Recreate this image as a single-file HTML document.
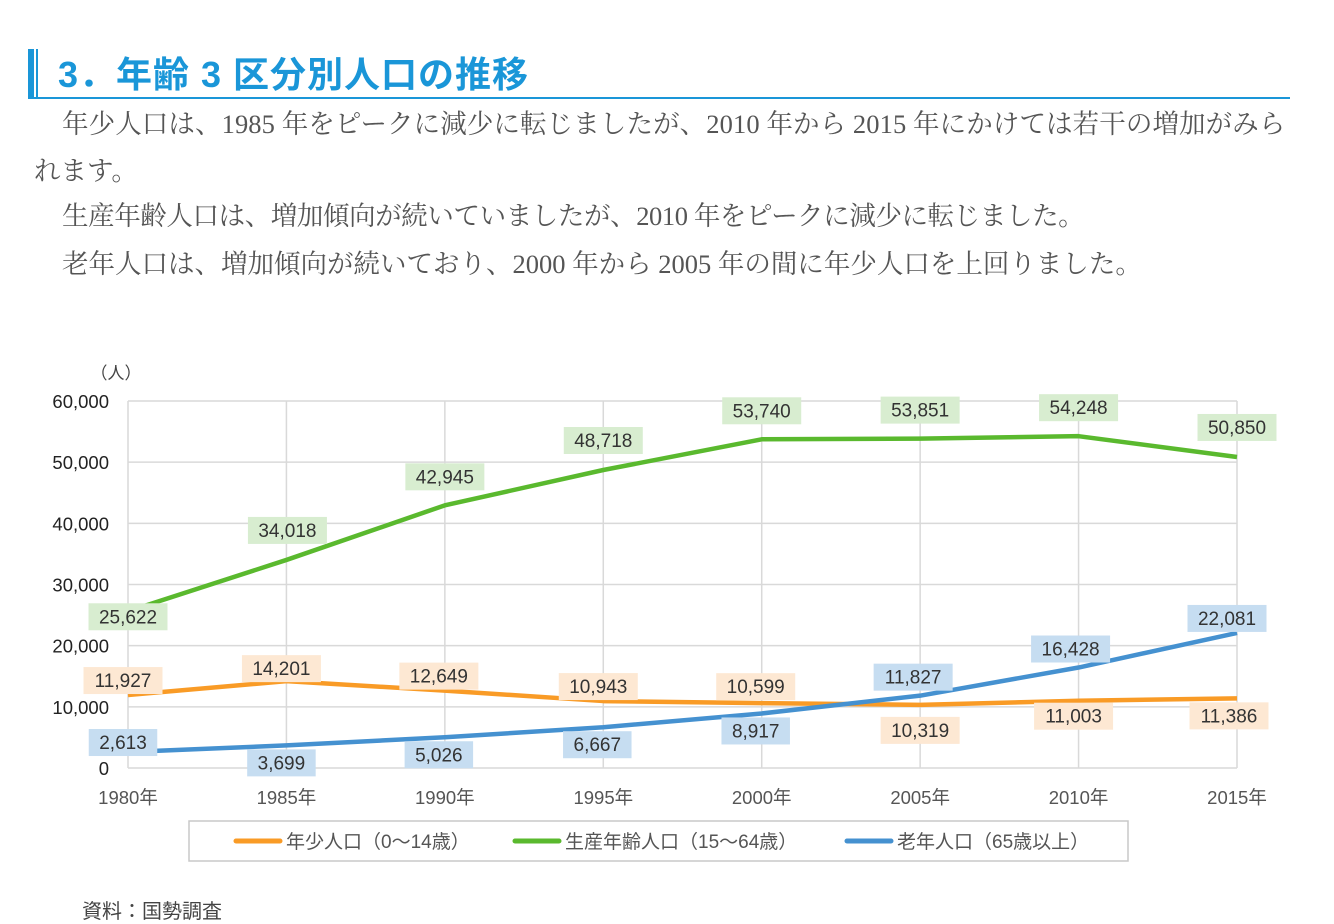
<!DOCTYPE html>
<html><head><meta charset="utf-8"><style>
body{margin:0;width:1334px;height:906px;background:#fff;overflow:hidden;position:relative;font-family:"Liberation Sans","Noto Sans CJK JP",sans-serif}
.p{position:absolute;white-space:nowrap;font-family:"Liberation Serif","Noto Serif CJK SC",serif;font-size:26.5px;color:#555;line-height:30px}
</style></head><body>
<div style="position:absolute;left:28px;top:49px;width:6px;height:50px;background:#1a96d8"></div>
<div style="position:absolute;left:36px;top:49px;width:2px;height:50px;background:#1a96d8"></div>
<div style="position:absolute;left:28px;top:97px;width:1262px;height:2px;background:#1a96d8"></div>
<div style="position:absolute;left:58px;top:46px;font-size:36px;font-weight:bold;color:#1a96d8;white-space:nowrap;font-family:'Liberation Sans','Noto Sans CJK JP',sans-serif;letter-spacing:1px">3．年齢 3 区分別人口の推移</div>
<div class="p" style="left:62px;top:109px;letter-spacing:0.1px">年少人口は、1985 年をピークに減少に転じましたが、2010 年から 2015 年にかけては若干の増加がみら</div>
<div class="p" style="left:34px;top:156px">れます。</div>
<div class="p" style="left:62px;top:201px;letter-spacing:-0.4px">生産年齢人口は、増加傾向が続いていましたが、2010 年をピークに減少に転じました。</div>
<div class="p" style="left:62px;top:249px;letter-spacing:0px">老年人口は、増加傾向が続いており、2000 年から 2005 年の間に年少人口を上回りました。</div>
<svg id="chart" width="1334" height="906" style="position:absolute;left:0;top:0" xmlns="http://www.w3.org/2000/svg"></svg>
<div style="position:absolute;left:82px;top:895px;font-size:20px;color:#444;white-space:nowrap">資料：国勢調査</div>
<script>
const years=["1980年","1985年","1990年","1995年","2000年","2005年","2010年","2015年"];
const youth=[11927,14201,12649,10943,10599,10319,11003,11386];
const working=[25622,34018,42945,48718,53740,53851,54248,50850];
const elderly=[2613,3699,5026,6667,8917,11827,16428,22081];
const yTicks=[0,10000,20000,30000,40000,50000,60000];
const youthLabelDy=[-15,-13,-15,-15,-17,25,15,17];
const youthLabelDx=[-5,-5,-6,-5,-6,0,-5,-8];
const workingLabelDy=[5,-30,-29,-30,-29,-29,-29,-30];
const workingLabelDx=[0,1,0,0,0,0,0,0];
const elderlyLabelDy=[-10,17,17,17,17,-19,-19,-15];
const elderlyLabelDx=[-5,-5,-6,-6,-6,-7,-8,-10];
const svg=document.getElementById('chart');
const NS="http://www.w3.org/2000/svg";
const x0=128,x1=1237,yb=768,yt=401,ymax=60000;
const X=i=>x0+(x1-x0)*i/(years.length-1);
const Y=v=>yb-(yb-yt)*v/ymax;
function mk(tag,attrs){const e=document.createElementNS(NS,tag);for(const k in attrs)e.setAttribute(k,attrs[k]);svg.appendChild(e);return e;}
yTicks.forEach(t=>{
  const g=mk('line',{x1:x0,x2:x1,y1:Y(t),y2:Y(t),stroke:'#d9d9d9','stroke-width':1.5});
  
  
  const tx=mk('text',{x:109,y:Y(t)+7,'text-anchor':'end','font-size':18.5,fill:'#222'});
  tx.textContent=t.toLocaleString('en-US');
  
  
});
years.forEach((yr,i)=>{
  const g=mk('line',{x1:X(i),x2:X(i),y1:yt,y2:yb,stroke:'#d9d9d9','stroke-width':1.5});
  
  
  const tx=mk('text',{x:X(i),y:804,'text-anchor':'middle','font-size':18.5,fill:'#555'});
  tx.textContent=yr;
  
  
});
const unit=mk('text',{x:116,y:379,'text-anchor':'middle','font-size':17,fill:'#444'});
unit.textContent='（人）';


const series=[
 {name:'youth',vals:youth,color:'#f99b26',bg:'#fde8d3',dy:youthLabelDy,dx:youthLabelDx},
 {name:'working',vals:working,color:'#5ab92e',bg:'#d8edd0',dy:workingLabelDy,dx:workingLabelDx},
 {name:'elderly',vals:elderly,color:'#4591d0',bg:'#c6ddf1',dy:elderlyLabelDy,dx:elderlyLabelDx}];
series.forEach(s=>{
  const pts=s.vals.map((v,i)=>X(i)+','+Y(v)).join(' ');
  const l=mk('polyline',{points:pts,fill:'none',stroke:s.color,'stroke-width':4.5,'stroke-linejoin':'round'});
  
  
});
series.forEach(s=>{
  s.vals.forEach((v,i)=>{
    const txt=v.toLocaleString('en-US');
    const cx=X(i)+s.dx[i],cy=Y(v)+s.dy[i];
    const w=txt.length*10.5+16;
    const r=mk('rect',{x:cx-w/2,y:cy-13,width:w,height:27,fill:s.bg});
    
    
    const t=mk('text',{x:cx,y:cy+7,'text-anchor':'middle','font-size':19,fill:'#333'});
    t.textContent=txt;
    
    
  });
});
const lg=mk('rect',{x:189,y:821,width:939,height:40,fill:'#fff',stroke:'#c8c8c8','stroke-width':1.5});


const legendItems=[['年少人口（0～14歳）',236,'#f99b26'],['生産年齢人口（15～64歳）',515,'#5ab92e'],['老年人口（65歳以上）',847,'#4591d0']];
legendItems.forEach(([lab,lx,c])=>{
  const l=mk('line',{x1:lx,x2:lx+44,y1:841,y2:841,stroke:c,'stroke-width':5,'stroke-linecap':'round'});
  
  
  const t=mk('text',{x:lx+50,y:848,'font-size':19,fill:'#555'});
  t.textContent=lab;
  
  
});
</script>
</body></html>
